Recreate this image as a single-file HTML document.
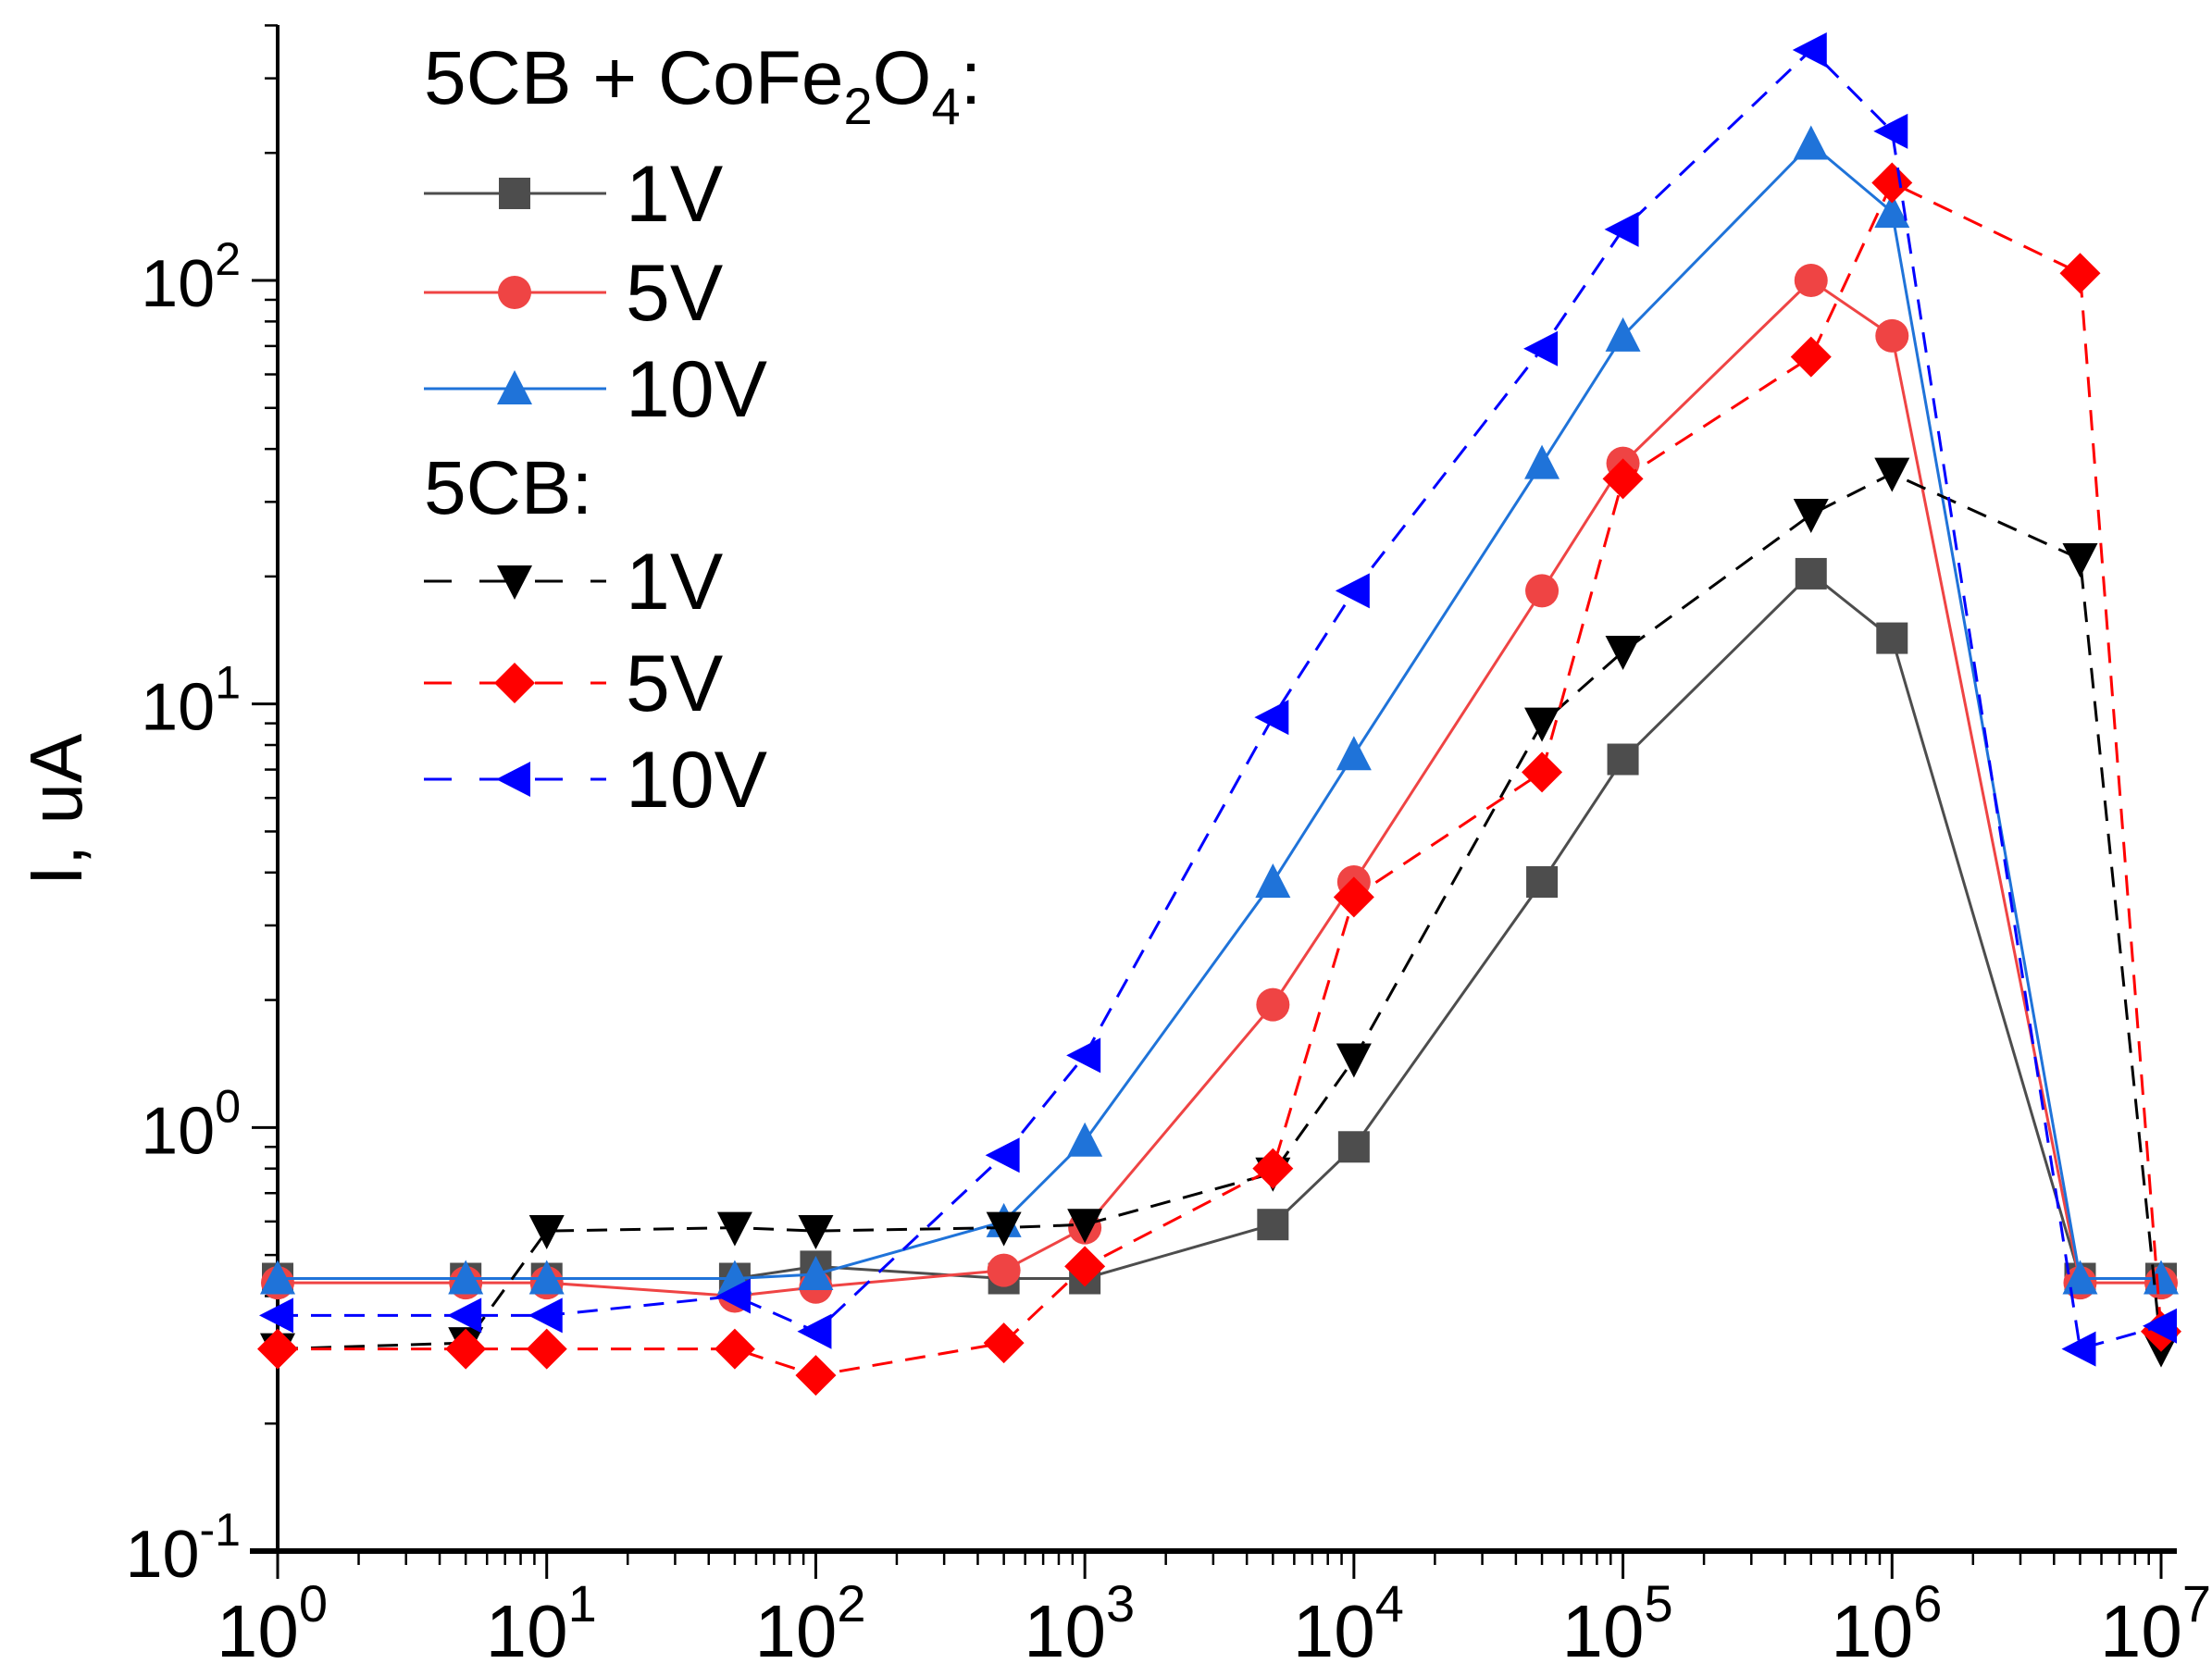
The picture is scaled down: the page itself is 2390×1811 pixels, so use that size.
<!DOCTYPE html>
<html><head><meta charset="utf-8"><style>
html,body{margin:0;padding:0;background:#fff}
svg{display:block;font-family:"Liberation Sans",Arial,sans-serif}
</style></head><body>
<svg id="chart" width="2390" height="1811" viewBox="0 0 2390 1811" xmlns="http://www.w3.org/2000/svg">
<g id="axes"></g><g id="series"></g>
<text transform="translate(88,875) rotate(-90)" text-anchor="middle" font-size="80">I, uA</text>
<g id="legend"></g>
</svg>
<script>
const xValues=[1,5,10,50,100,500,1000,5000,1e4,5e4,1e5,5e5,1e6,5e6,1e7];
const mix1V=[0.44,0.44,0.44,0.44,0.47,0.44,0.44,0.59,0.90,3.8,7.4,20.3,14.3,0.44,0.44];
const mix5V=[0.43,0.43,0.43,0.40,0.42,0.46,0.58,1.95,3.8,18.5,37,100,74,0.43,0.43];
const mix10V=[0.44,0.44,0.44,0.44,0.45,0.60,0.93,3.8,7.6,37,74,210,145,0.44,0.44];
const pure1V=[0.30,0.31,0.57,0.58,0.57,0.58,0.59,0.78,1.45,9.0,13.3,28,35,22,0.30];
const pure5V=[0.30,0.30,0.30,0.30,0.26,0.31,0.47,0.80,3.5,6.9,34,66,170,104,0.33];
const pure10V=[0.36,0.36,0.36,0.40,0.33,0.86,1.48,9.3,18.5,69,132,350,225,0.30,0.34];
const xTickExps=[0,1,2,3,4,5,6,7];
const yTickExps=[-1,0,1,2];

const NS="http://www.w3.org/2000/svg";
const X0=300,XD=(2335-300)/7,YB=1676,YD=(1676-303)/3;
const xs=v=>X0+Math.log10(v)*XD;
const ys=v=>YB-(Math.log10(v)+1)*YD;
function mk(tag,attrs,parent){const e=document.createElementNS(NS,tag);for(const k in attrs)e.setAttribute(k,attrs[k]);parent.appendChild(e);return e;}
const axes=document.getElementById('axes'),ser=document.getElementById('series'),leg=document.getElementById('legend');

let ya=mk('line',{x1:X0,y1:27,x2:X0,y2:YB,stroke:'#000','stroke-width':4},axes);

let xa=mk('line',{x1:X0-30,y1:YB,x2:2352,y2:YB,stroke:'#000','stroke-width':6},axes);

xTickExps.forEach(e=>{
  const x=xs(Math.pow(10,e));
  mk('line',{x1:x,y1:YB,x2:x,y2:YB+30,stroke:'#000','stroke-width':3},axes);
  if(e<7)for(let m=2;m<10;m++){const xm=xs(m*Math.pow(10,e));mk('line',{x1:xm,y1:YB,x2:xm,y2:YB+15,stroke:'#000','stroke-width':2.5},axes);}
  const t=mk('text',{x:x-6,y:1790,'text-anchor':'middle','font-size':80},axes);
  
  
  t.innerHTML='10<tspan font-size="56" dy="-38">'+e+'</tspan>';
});
yTickExps.forEach(e=>{
  const y=ys(Math.pow(10,e));
  mk('line',{x1:X0-28,y1:y,x2:X0,y2:y,stroke:'#000','stroke-width':3},axes);
  for(let m=2;m<10;m++){const v=m*Math.pow(10,e);const ym=ys(v);if(ym<27)break;mk('line',{x1:X0-14,y1:ym,x2:X0,y2:ym,stroke:'#000','stroke-width':2.5},axes);}
  const t=mk('text',{x:X0-40,y:y+28,'text-anchor':'end','font-size':72},axes);
  
  
  t.innerHTML='10<tspan font-size="50" dy="-34">'+e+'</tspan>';
});

function marker(type,x,y,color,g){
  const s=17;
  if(type==='sq')return mk('rect',{x:x-s,y:y-s,width:2*s,height:2*s,fill:color},g);
  if(type==='ci')return mk('circle',{cx:x,cy:y,r:s+1,fill:color},g);
  let p;
  if(type==='up')p=[[x,y-s-3],[x+s+2,y+s],[x-s-2,y+s]];
  if(type==='dn')p=[[x,y+s+3],[x+s+2,y-s],[x-s-2,y-s]];
  if(type==='di')p=[[x,y-s-5],[x+s+5,y],[x,y+s+5],[x-s-5,y]];
  if(type==='lf')p=[[x-s-3,y],[x+s,y-s-2],[x+s,y+s+2]];
  return mk('polygon',{points:p.map(q=>q.join(',')).join(' '),fill:color},g);
}
const series=[
 {n:'mix-1v',d:mix1V,c:'#4d4d4d',m:'sq',dash:null},
 {n:'mix-5v',d:mix5V,c:'#ef4444',m:'ci',dash:null},
 {n:'mix-10v',d:mix10V,c:'#1f73d9',m:'up',dash:null},
 {n:'pure-1v',d:pure1V,c:'#000000',m:'dn',dash:'22 14'},
 {n:'pure-5v',d:pure5V,c:'#ff0000',m:'di',dash:'22 14'},
 {n:'pure-10v',d:pure10V,c:'#0000ff',m:'lf',dash:'22 14'}
];
series.forEach(s=>{
  const g=mk('g',{},ser);
  
  
  const pts=s.d.map((v,i)=>xs(xValues[i]).toFixed(1)+','+ys(v).toFixed(1)).join(' ');
  const a={points:pts,fill:'none',stroke:s.c,'stroke-width':3};
  if(s.dash)a['stroke-dasharray']=s.dash;
  mk('polyline',a,g);
  s.d.forEach((v,i)=>{const m=marker(s.m,xs(xValues[i]),ys(v),s.c,g);
    
    });
});
// legend
const h1=mk('text',{x:458,y:112,'font-size':82},leg);


h1.innerHTML='5CB + CoFe<tspan font-size="56" dy="22">2</tspan><tspan dy="-22">O</tspan><tspan font-size="56" dy="22">4</tspan><tspan dy="-22">:</tspan>';
const h2=mk('text',{x:458,y:555,'font-size':82},leg);


h2.textContent='5CB:';
const rowsY=[209,316,420,628,738,842];
const labels=['1V','5V','10V','1V','5V','10V'];
series.forEach((s,i)=>{
  const g=mk('g',{},leg);
  
  
  const y=rowsY[i];
  const a={x1:458,y1:y,x2:655,y2:y,stroke:s.c,'stroke-width':3};
  if(s.dash)a['stroke-dasharray']='30 30';
  mk('line',a,g);
  marker(s.m,556,y,s.c,g);
  const t=mk('text',{x:676,y:y+30,'font-size':86},g);t.textContent=labels[i];
});
</script>
</body></html>
